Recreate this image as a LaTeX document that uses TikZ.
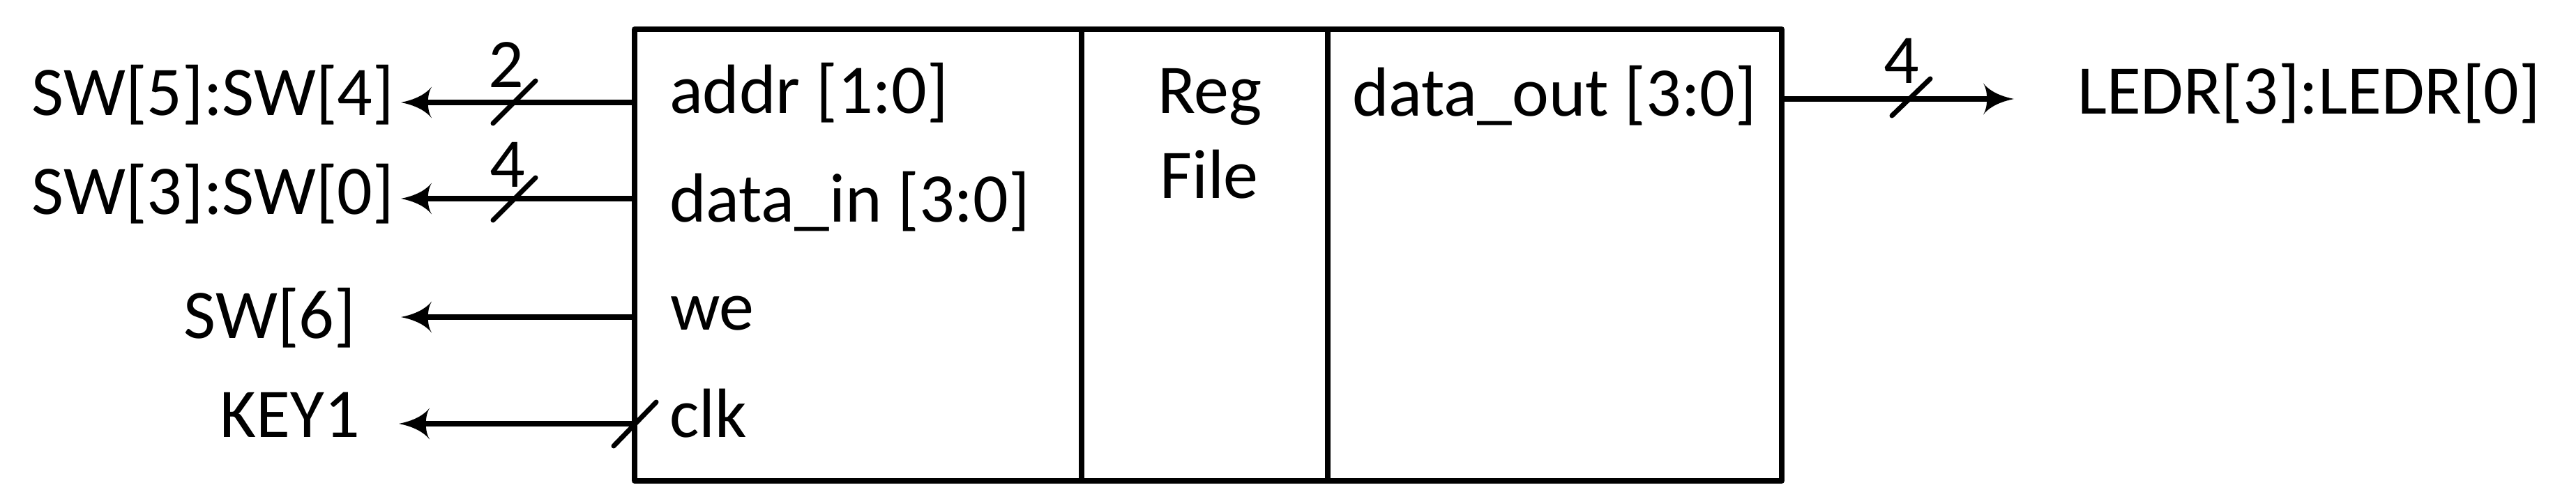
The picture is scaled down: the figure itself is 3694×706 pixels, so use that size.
\documentclass[tikz,border=0pt]{standalone}
\usepackage{fontspec}
\setmainfont{Carlito}
\usetikzlibrary{arrows.meta}
\pgfdeclarearrow{
  name = Flare,
  defaults = {length = 44pt, width = 45pt},
  parameters = {\the\pgfarrowlength,\the\pgfarrowwidth},
  setup code = {
    \pgfarrowssettipend{0pt}
    \pgfarrowssetbackend{-\pgfarrowlength}
    \pgfarrowssetlineend{-0.7\pgfarrowlength}
    \pgfarrowshullpoint{0pt}{0pt}
    \pgfarrowshullpoint{-\pgfarrowlength}{.5\pgfarrowwidth}
    \pgfarrowshullpoint{-\pgfarrowlength}{-.5\pgfarrowwidth}
    \pgfarrowssavethe\pgfarrowlength
    \pgfarrowssavethe\pgfarrowwidth
  },
  drawing code = {
    \pgfpathmoveto{\pgfpointorigin}
    \pgfpathcurveto{\pgfpoint{-.35\pgfarrowlength}{.07\pgfarrowwidth}}{\pgfpoint{-.75\pgfarrowlength}{.2\pgfarrowwidth}}{\pgfpoint{-\pgfarrowlength}{.5\pgfarrowwidth}}
    \pgfpathcurveto{\pgfpoint{-.84\pgfarrowlength}{.25\pgfarrowwidth}}{\pgfpoint{-.84\pgfarrowlength}{-.25\pgfarrowwidth}}{\pgfpoint{-\pgfarrowlength}{-.5\pgfarrowwidth}}
    \pgfpathcurveto{\pgfpoint{-.75\pgfarrowlength}{-.2\pgfarrowwidth}}{\pgfpoint{-.35\pgfarrowlength}{-.07\pgfarrowwidth}}{\pgfpointorigin}
    \pgfpathclose
    \pgfusepathqfill
  }
}
\tikzset{
  lbl/.style={inner sep=0pt, outer sep=0pt, font=\fontsize{100pt}{120pt}\selectfont},
  comp/.style={draw, line width=7.5pt, inner sep=0pt, outer sep=0pt, minimum height=648pt, line join=round},
  sig/.style={line width=7.5pt, -{Flare[length=44pt,width=45pt]}},
  busmark/.style={line width=7pt, line cap=round},
}
\begin{document}
\begin{tikzpicture}[x=1pt,y=-1pt]
\useasboundingbox (0,0) rectangle (3694,706);
% register file block
\node[comp, minimum width=641pt] (lcomp) at (1230.5,366) {};
\node[comp, minimum width=353pt] (mcomp) at (1727.5,366) {};
\node[comp, minimum width=651pt] (rcomp) at (2229.5,366) {};
% port names
\node[lbl, anchor=base west] (paddr) at (960,163) {addr [1:0]};
\node[lbl, anchor=base west] (pdin) at (960,318) {data\_in [3:0]};
\node[lbl, anchor=base west] (pwe) at (961,473) {we};
\node[lbl, anchor=base west] (pclk) at (960,627) {clk};
\node[lbl, anchor=base] (treg) at (1735,163) {Reg};
\node[lbl, anchor=base] (tfile) at (1734,284) {File};
\node[lbl, anchor=base west] (pdout) at (1939,167) {data\_out [3:0]};
% external signals
\node[lbl, anchor=base east] (sw54) at (565,165) {SW[5]:SW[4]};
\node[lbl, anchor=base east] (sw30) at (565,307) {SW[3]:SW[0]};
\node[lbl, anchor=base east] (sw6) at (510,485) {SW[6]};
\node[lbl, anchor=base east] (key1) at (516,627) {KEY1};
\node[lbl, anchor=base west] (ledr) at (2979,164) {LEDR[3]:LEDR[0]};
% arrow tips next to the signal names
\coordinate (tA) at (575,147);
\coordinate (tD) at (575,285);
\coordinate (tW) at (575,455);
\coordinate (tC) at (572,608);
\coordinate (tO) at (2888,142);
% connectors
\draw[sig] (lcomp.west |- tA) -- (tA);
\draw[sig] (lcomp.west |- tD) -- (tD);
\draw[sig] (lcomp.west |- tW) -- (tW);
\draw[sig] (lcomp.west |- tC) -- (tC);
\draw[sig] (rcomp.east |- tO) -- (tO);
% bus width marks
\draw[busmark] (707,177) -- (768,116);
\draw[busmark] (707,316) -- (768,255);
\draw[busmark] (880,640) -- (941,577);
\draw[busmark] (2713,166) -- (2768,113);
\node[lbl, anchor=base] (wA) at (726,126) {2};
\node[lbl, anchor=base] (wD) at (728,268) {4};
\node[lbl, anchor=base] (wO) at (2727,120) {4};
\end{tikzpicture}
\end{document}
